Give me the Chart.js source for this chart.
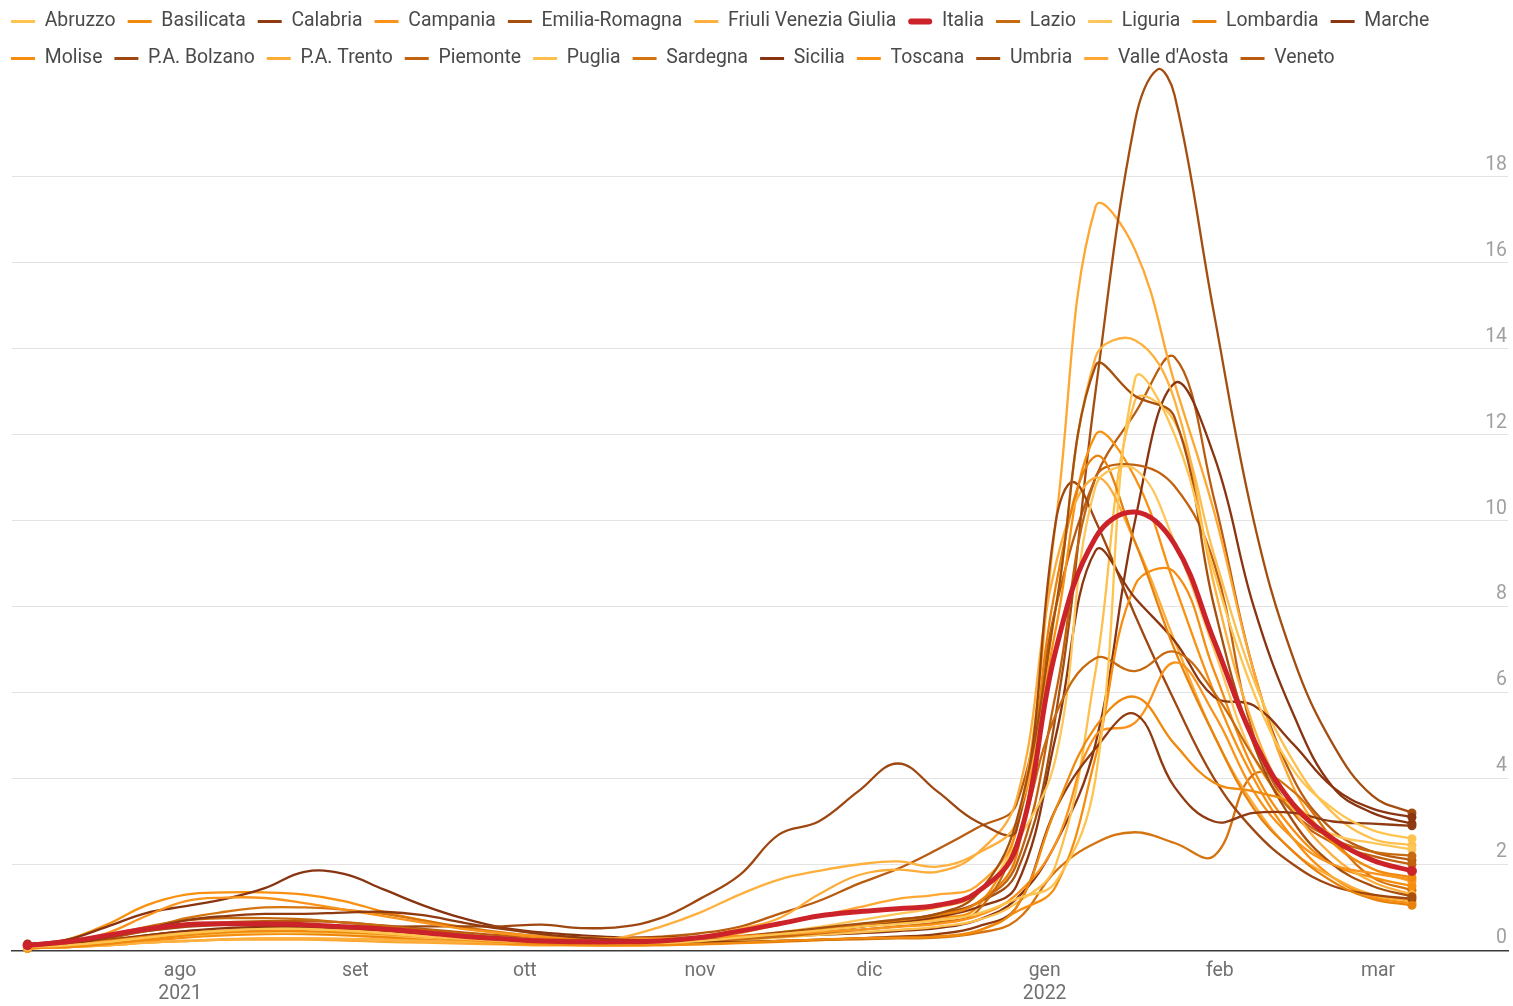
<!DOCTYPE html>
<html>
<head>
<meta charset="utf-8">
<script src="https://cdn.jsdelivr.net/npm/chart.js@4.4.1/dist/chart.umd.min.js"></script>
<style>
html,body{margin:0;padding:0;background:#fff;overflow:hidden}
#wrap{position:relative;width:1513px;height:1006px}
</style>
</head>
<body>
<div id="wrap"><canvas id="c"></canvas></div>
<script>
// ---------- DATA ----------
const dates = ['2021-07-05','2021-07-12','2021-07-19','2021-07-26','2021-08-02','2021-08-09','2021-08-16','2021-08-23','2021-08-30',
  '2021-09-06','2021-09-13','2021-09-20','2021-09-27','2021-10-04','2021-10-11','2021-10-18','2021-10-25','2021-11-01','2021-11-08',
  '2021-11-15','2021-11-22','2021-11-29','2021-12-06','2021-12-13','2021-12-20','2021-12-27','2022-01-03','2022-01-10','2022-01-17',
  '2022-01-24','2022-01-31','2022-02-07','2022-02-14','2022-02-21','2022-02-28','2022-03-07'];

const monthTickDates = ['2021-08-01','2021-09-01','2021-10-01','2021-11-01','2021-12-01','2022-01-01','2022-02-01','2022-03-01'];
const monthTickLabels = [['ago','2021'],'set','ott','nov','dic',['gen','2022'],'feb','mar'];
const yTickValues = [0,2,4,6,8,10,12,14,16,18];

const abruzzo   = [0.08,0.12,0.2,0.3,0.4,0.46,0.5,0.5,0.46,0.4,0.33,0.27,0.22,0.2,0.18,0.17,0.18,0.22,0.3,0.38,0.46,0.55,0.62,0.7,0.85,1.2,1.6,4.0,13.3,12.0,8.8,6.0,4.2,3.3,2.8,2.6];
const basilicata= [0.05,0.08,0.15,0.25,0.35,0.42,0.45,0.45,0.42,0.38,0.32,0.25,0.2,0.16,0.14,0.13,0.13,0.15,0.18,0.22,0.25,0.28,0.3,0.32,0.45,1.0,3.3,5.2,5.9,4.8,3.9,3.7,3.4,2.5,1.9,1.7];
const calabria  = [0.1,0.15,0.3,0.5,0.7,0.8,0.85,0.85,0.88,0.9,0.82,0.65,0.5,0.38,0.3,0.25,0.22,0.2,0.2,0.22,0.25,0.28,0.32,0.38,0.55,1.0,3.3,4.7,5.5,3.8,3.0,3.2,3.2,3.0,2.95,2.9];
const campania  = [0.1,0.18,0.4,0.8,1.15,1.23,1.22,1.1,0.95,0.8,0.65,0.5,0.4,0.33,0.3,0.28,0.28,0.3,0.33,0.38,0.42,0.48,0.55,0.62,0.8,1.3,2.5,5.0,5.3,6.7,5.5,3.7,2.6,2.0,1.8,1.65];
const emilia    = [0.1,0.15,0.3,0.45,0.55,0.6,0.62,0.6,0.55,0.48,0.4,0.32,0.25,0.2,0.18,0.18,0.2,0.25,0.33,0.42,0.52,0.62,0.72,0.85,1.3,3.0,8.0,13.6,12.9,12.4,8.0,4.8,3.0,2.0,1.5,1.25];
const friuli    = [0.05,0.08,0.12,0.18,0.22,0.25,0.28,0.28,0.27,0.25,0.22,0.2,0.18,0.17,0.2,0.3,0.55,0.88,1.3,1.65,1.85,2.0,2.07,1.95,2.25,3.0,8.0,13.8,14.2,12.8,8.5,5.2,3.3,2.2,1.6,1.3];
const italia    = [0.12,0.2,0.35,0.5,0.6,0.62,0.62,0.6,0.55,0.5,0.42,0.33,0.27,0.22,0.2,0.2,0.22,0.3,0.45,0.62,0.8,0.9,0.97,1.05,1.35,2.4,7.0,9.6,10.2,9.45,7.2,4.9,3.4,2.6,2.1,1.85];
const lazio     = [0.1,0.18,0.35,0.55,0.7,0.75,0.75,0.72,0.65,0.57,0.47,0.38,0.3,0.25,0.22,0.2,0.2,0.22,0.26,0.32,0.4,0.48,0.56,0.65,0.9,2.5,5.5,6.8,6.5,6.95,6.0,4.5,3.2,2.6,2.3,2.2];
const liguria   = [0.06,0.1,0.18,0.28,0.35,0.4,0.42,0.42,0.4,0.36,0.3,0.25,0.2,0.17,0.15,0.15,0.17,0.22,0.3,0.42,0.55,0.7,0.85,1.0,1.3,2.5,4.5,10.8,11.2,9.5,7.0,4.5,3.3,2.7,2.5,2.35];
const lombardia = [0.08,0.12,0.22,0.32,0.4,0.42,0.42,0.4,0.37,0.33,0.28,0.23,0.19,0.16,0.15,0.15,0.17,0.22,0.3,0.4,0.5,0.6,0.7,0.82,1.1,2.2,8.5,11.5,9.5,7.0,5.0,3.3,2.3,1.6,1.2,1.05];
const marche    = [0.08,0.12,0.22,0.35,0.45,0.52,0.55,0.55,0.52,0.47,0.4,0.33,0.27,0.22,0.2,0.19,0.2,0.24,0.3,0.38,0.46,0.55,0.65,0.78,1.0,1.5,5.0,9.3,8.2,7.2,5.9,5.7,4.8,3.8,3.3,3.1];
const molise    = [0.05,0.08,0.14,0.22,0.3,0.35,0.38,0.38,0.35,0.3,0.25,0.2,0.16,0.14,0.12,0.11,0.12,0.14,0.17,0.2,0.24,0.28,0.3,0.33,0.45,0.9,1.5,4.5,8.5,8.8,6.5,4.2,2.8,2.0,1.7,1.5];
const bolzano   = [0.1,0.14,0.22,0.32,0.4,0.45,0.48,0.5,0.52,0.55,0.56,0.56,0.56,0.6,0.52,0.55,0.75,1.2,1.75,2.7,3.0,3.7,4.35,3.7,3.0,2.8,10.0,10.0,7.8,5.8,4.0,2.8,2.0,1.5,1.3,1.2];
const trento    = [0.05,0.08,0.12,0.18,0.22,0.26,0.28,0.28,0.27,0.25,0.22,0.2,0.18,0.16,0.15,0.16,0.22,0.32,0.5,0.75,1.3,1.75,1.88,1.83,2.25,3.5,9.0,11.0,9.5,7.2,5.0,3.4,2.3,1.7,1.3,1.15];
const piemonte  = [0.06,0.1,0.18,0.28,0.35,0.38,0.4,0.4,0.38,0.34,0.3,0.25,0.2,0.17,0.16,0.16,0.18,0.22,0.28,0.36,0.45,0.55,0.68,0.82,1.1,2.0,6.0,11.0,11.3,10.8,9.0,5.0,3.2,2.5,2.2,2.0];
const puglia    = [0.06,0.1,0.18,0.3,0.42,0.5,0.55,0.55,0.5,0.42,0.34,0.27,0.22,0.18,0.16,0.15,0.16,0.19,0.24,0.3,0.36,0.42,0.48,0.55,0.7,1.1,2.0,6.5,12.8,12.3,9.2,6.3,4.4,3.2,2.6,2.45];
const sardegna  = [0.1,0.15,0.3,0.5,0.75,0.9,1.0,1.0,0.95,0.85,0.7,0.55,0.42,0.32,0.26,0.22,0.2,0.2,0.2,0.22,0.24,0.26,0.28,0.3,0.4,0.7,1.85,2.5,2.75,2.5,2.2,4.1,3.7,2.6,1.7,1.4];
const sicilia   = [0.15,0.25,0.55,0.87,1.03,1.2,1.45,1.83,1.78,1.42,1.05,0.75,0.53,0.42,0.35,0.3,0.3,0.3,0.3,0.32,0.36,0.4,0.45,0.52,0.7,1.2,2.5,4.8,10.0,13.2,11.5,8.0,5.5,3.8,3.2,2.95];
const toscana   = [0.1,0.25,0.6,1.05,1.3,1.35,1.35,1.3,1.15,0.9,0.7,0.52,0.4,0.3,0.25,0.22,0.22,0.25,0.3,0.38,0.46,0.55,0.65,0.75,1.0,2.8,7.5,12.0,11.0,8.5,6.0,4.0,2.6,1.7,1.25,1.1];
const umbria    = [0.1,0.15,0.25,0.35,0.45,0.5,0.52,0.52,0.48,0.42,0.36,0.3,0.25,0.2,0.18,0.17,0.18,0.22,0.3,0.4,0.5,0.6,0.7,0.85,1.1,1.8,5.5,13.0,19.3,19.9,14.8,10.0,6.8,4.8,3.6,3.2];
const aosta     = [0.05,0.08,0.12,0.18,0.22,0.25,0.25,0.25,0.23,0.2,0.18,0.16,0.14,0.12,0.12,0.12,0.15,0.25,0.4,0.6,0.8,1.0,1.2,1.3,1.5,2.8,10.0,17.3,16.3,13.2,10.2,6.5,3.8,2.5,1.9,1.6];
const veneto    = [0.1,0.15,0.28,0.45,0.58,0.65,0.68,0.68,0.65,0.58,0.5,0.42,0.35,0.3,0.28,0.28,0.32,0.4,0.55,0.85,1.15,1.55,1.9,2.35,2.85,3.4,8.0,11.0,12.5,13.8,10.5,6.5,4.0,2.8,2.3,2.1];

// extra readings between the weekly dates, where a peak falls between two of them
const umbriaPeakDates = ['2022-01-21'];
const umbriaPeakValues = [20.5];
const bolzanoPeakDates = ['2022-01-06'];
const bolzanoPeakValues = [10.9];

const seriesNames = ['Abruzzo','Basilicata','Calabria','Campania','Emilia-Romagna','Friuli Venezia Giulia','Italia','Lazio','Liguria',
  'Lombardia','Marche','Molise','P.A. Bolzano','P.A. Trento','Piemonte','Puglia','Sardegna','Sicilia','Toscana','Umbria',"Valle d'Aosta",'Veneto'];
const seriesValues = [abruzzo,basilicata,calabria,campania,emilia,friuli,italia,lazio,liguria,lombardia,marche,molise,
  bolzano,trento,piemonte,puglia,sardegna,sicilia,toscana,umbria,aosta,veneto];
const seriesExtras = {'Umbria': [umbriaPeakDates, umbriaPeakValues], 'P.A. Bolzano': [bolzanoPeakDates, bolzanoPeakValues]};

// ---------- STYLE ----------
const seriesColors = ['#fec44f','#f08a0e','#8f3a11','#f9931c','#a7500e','#fdb03d','#cc2229','#c86a0f','#fdc65a',
  '#e8820c','#8b3611','#f68d0f','#9e4711','#fcac38','#c2620f','#fdbf4d','#d5730f','#893410','#fa900f','#a34e10','#fea732','#b95c0f'];
const HIGHLIGHT = 'Italia';
const FONT = 'Roboto, "Noto Sans", sans-serif';

const dayNum = s => (Date.UTC(+s.slice(0,4), +s.slice(5,7)-1, +s.slice(8,10)) - Date.UTC(2021,6,5)) / 864e5;

const datasets = seriesNames.map((name, i) => {
  const hi = name === HIGHLIGHT;
  let pts = seriesValues[i].map((v, j) => ({x: dayNum(dates[j]), y: v}));
  if (seriesExtras[name]) {
    const [ed, ev] = seriesExtras[name];
    ed.forEach((d, k) => pts.push({x: dayNum(d), y: ev[k]}));
    pts.sort((a, b) => a.x - b.x);
  }
  const last = pts.length - 1;
  return {
    label: name,
    data: pts,
    borderColor: seriesColors[i],
    backgroundColor: seriesColors[i],
    borderWidth: hi ? 5 : 2.3,
    pointRadius: ctx => (ctx.dataIndex === 0 || ctx.dataIndex === last) ? (hi ? 5 : 4.5) : 0,
    pointBorderWidth: 0,
    pointHoverRadius: 0,
    tension: 0.4,
    clip: false,
    order: hi ? -1 : 0
  };
});

const swatchPlugin = {
  id: 'swatches',
  afterLayout(chart) {
    const lg = chart.legend;
    if (lg) { lg.top -= 3; lg.bottom -= 3; lg.left -= 13; lg.right -= 13; }
  },
  afterDraw(chart) {
    const lg = chart.legend;
    if (!lg || !lg.legendHitBoxes) return;
    const ctx = chart.ctx;
    ctx.save();
    lg.legendHitBoxes.forEach((hb, i) => {
      const ds = chart.data.datasets[i];
      const hi = ds.label === HIGHLIGHT;
      const y = hb.top + hb.height / 2;
      ctx.beginPath();
      ctx.strokeStyle = ds.borderColor;
      ctx.lineWidth = hi ? 6 : 3;
      ctx.lineCap = hi ? 'round' : 'butt';
      ctx.moveTo(hb.left + (hi ? 3 : 0), y);
      ctx.lineTo(hb.left + 24 - (hi ? 3 : 0), y);
      ctx.stroke();
    });
    ctx.restore();
  }
};

new Chart(document.getElementById('c'), {
  type: 'line',
  data: {datasets},
  plugins: [swatchPlugin],
  options: {
    responsive: true,
    maintainAspectRatio: false,
    animation: false,
    events: [],
    layout: {padding: {left: 12, right: 5, top: 0, bottom: -9}},
    elements: {line: {capBezierPoints: false}},
    plugins: {
      tooltip: {enabled: false},
      legend: {
        position: 'top',
        align: 'start',
        labels: {
          boxWidth: 24,
          boxHeight: 25,
          padding: 12,
          color: '#4a4a4a',
          font: {family: FONT, size: 19.4},
          generateLabels: chart => chart.data.datasets.map((ds, i) => ({
            text: ds.label,
            fillStyle: 'rgba(0,0,0,0)',
            strokeStyle: 'rgba(0,0,0,0)',
            lineWidth: 0,
            hidden: false,
            datasetIndex: i,
            fontColor: '#4a4a4a'
          }))
        }
      }
    },
    scales: {
      x: {
        type: 'linear',
        min: dayNum('2021-07-05') - 2.75,
        max: dayNum('2022-03-24'),
        grid: {display: false, drawTicks: false},
        border: {display: true, color: '#3a3a3a', width: 1.5},
        afterBuildTicks: s => { s.ticks = monthTickDates.map(d => ({value: dayNum(d)})); },
        ticks: {
          autoSkip: false,
          maxRotation: 0,
          padding: 9,
          color: '#707070',
          font: {family: FONT, size: 19.4},
          callback: (v, i) => monthTickLabels[i]
        }
      },
      y: {
        position: 'right',
        min: 0,
        max: 20.16,
        grid: {color: '#e3e3e3', lineWidth: 1, drawTicks: false},
        border: {display: false},
        afterBuildTicks: s => { s.ticks = yTickValues.map(v => ({value: v})); },
        ticks: {
          mirror: true,
          padding: -1,
          labelOffset: -12,
          color: '#a0a0a0',
          font: {family: FONT, size: 19.4},
          callback: v => String(v)
        }
      }
    }
  }
});
</script>
</body>
</html>
